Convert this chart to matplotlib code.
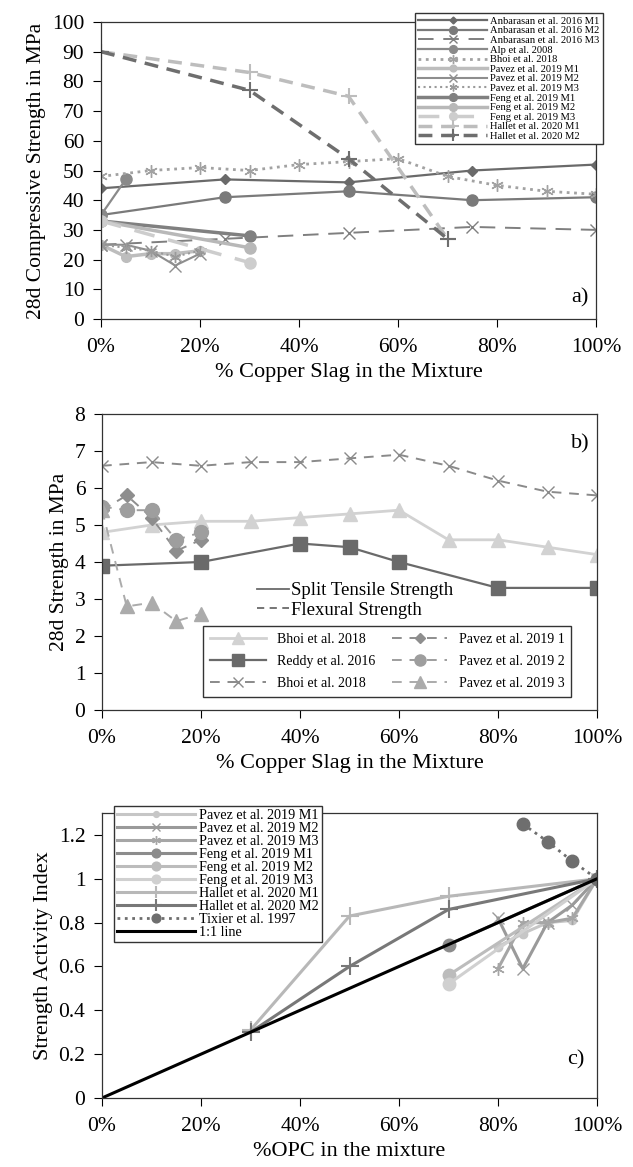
import numpy as np
import matplotlib.pyplot as plt
from matplotlib.ticker import PercentFormatter
from matplotlib.lines import Line2D

plt.rcParams['font.family'] = ['Liberation Serif', 'DejaVu Serif']

# ---- panel a: 28d compressive strength (MPa) vs % copper slag ----
anb_x = [0, 25, 50, 75, 100]
anb_m1 = [44, 47, 46, 50, 52]
anb_m2 = [35, 41, 43, 40, 41]
anb_m3 = [25, 27, 29, 31, 30]
alp_x = [0, 5]
alp_y = [35, 47]
bhoi_x = [0, 10, 20, 30, 40, 50, 60, 70, 80, 90, 100]
bhoi_cs = [48, 50, 51, 50, 52, 53, 54, 48, 45, 43, 42]
pav_x = [0, 5, 10, 15, 20]
pav_m1 = [25, 21, 22, 22, 23]
pav_m2 = [25, 25, 23, 18, 22]
pav_m3 = [25, 24, 23, 21, 23]
feng_x = [0, 30]
feng_m1 = [33, 28]
feng_m2 = [33, 24]
feng_m3 = [33, 19]
hal_x = [0, 30, 50, 70]
hal_m1 = [90, 83, 75, 27]
hal_m2 = [90, 77, 54, 27]

# ---- panel b: 28d split tensile / flexural strength (MPa) ----
bhoi_split = [4.8, 5.0, 5.1, 5.1, 5.2, 5.3, 5.4, 4.6, 4.6, 4.4, 4.2]
bhoi_flex = [6.6, 6.7, 6.6, 6.7, 6.7, 6.8, 6.9, 6.6, 6.2, 5.9, 5.8]
reddy_x = [0, 20, 40, 50, 60, 80, 100]
reddy_y = [3.9, 4.0, 4.5, 4.4, 4.0, 3.3, 3.3]
pav_f1 = [5.4, 5.8, 5.2, 4.3, 4.6]
pav_f2 = [5.5, 5.4, 5.4, 4.6, 4.8]
pav_f3 = [5.4, 2.8, 2.9, 2.4, 2.6]

# ---- panel c: strength activity index vs % OPC ----
c_pav_x = [100, 95, 90, 85, 80]
c_pav_m1 = [1.0, 0.81, 0.80, 0.75, 0.69]
c_pav_m2 = [1.0, 0.88, 0.80, 0.59, 0.82]
c_pav_m3 = [1.0, 0.82, 0.80, 0.80, 0.59]
c_feng_x = [100, 70]
c_feng_m1 = [1.0, 0.70]
c_feng_m2 = [1.0, 0.56]
c_feng_m3 = [1.0, 0.52]
c_hal_x = [100, 70, 50, 30]
c_hal_m1 = [1.0, 0.92, 0.83, 0.31]
c_hal_m2 = [1.0, 0.86, 0.60, 0.30]
tix_x = [85, 90, 95, 100]
tix_y = [1.25, 1.17, 1.08, 1.0]
one_x = [0, 100]
one_y = [0, 1]

AST = (6, 2, 0)  # asterisk marker

fig = plt.figure(figsize=(6.33, 11.67), dpi=100)
W, H = 633, 1167
def box(l, r, t, b):
    return [l / W, 1 - b / H, (r - l) / W, (b - t) / H]

ax1 = fig.add_axes(box(101, 596, 22, 319))
ax2 = fig.add_axes(box(102, 597, 414, 710))
ax3 = fig.add_axes(box(102, 597, 813, 1098))

def style(ax):
    ax.set_xlim(0, 100)
    ax.set_xticks(np.arange(0, 101, 20))
    ax.xaxis.set_major_formatter(PercentFormatter(xmax=100, decimals=0))
    ax.tick_params(labelsize=15.5, direction='out', length=6, width=0.8)
    ax.tick_params(axis='x', pad=8)
    ax.tick_params(axis='y', pad=6)
    for s in ax.spines.values():
        s.set_linewidth(0.9)
        s.set_color('#333333')

# panel a
ax1.plot(anb_x, anb_m1, color='#6a6a6a', marker='D', ms=5, lw=1.6, label='Anbarasan et al. 2016 M1')
ax1.plot(anb_x, anb_m2, color='#7a7a7a', marker='o', ms=8, lw=1.6, label='Anbarasan et al. 2016 M2')
ax1.plot(anb_x, anb_m3, color='#7f7f7f', marker='x', ms=8, lw=1.4, ls=(0, (8, 5)), label='Anbarasan et al. 2016 M3')
ax1.plot(alp_x, alp_y, color='#8a8a8a', marker='o', ms=8, lw=1.6, label='Alp et al. 2008')
ax1.plot(bhoi_x, bhoi_cs, color='#a2a2a2', marker=AST, ms=9, lw=2, ls=':', label='Bhoi et al. 2018')
ax1.plot(pav_x, pav_m1, color='#bdbdbd', marker='o', ms=7, lw=2.5, label='Pavez et al. 2019 M1')
ax1.plot(pav_x, pav_m2, color='#8e8e8e', marker='x', ms=8, lw=1.5, label='Pavez et al. 2019 M2')
ax1.plot(pav_x, pav_m3, color='#9a9a9a', marker=AST, ms=8, lw=1.5, ls=':', label='Pavez et al. 2019 M3')
ax1.plot(feng_x, feng_m1, color='#808080', marker='o', ms=8, lw=2.5, label='Feng et al. 2019 M1')
ax1.plot(feng_x, feng_m2, color='#b8b8b8', marker='o', ms=8, lw=2.5, label='Feng et al. 2019 M2')
ax1.plot(feng_x, feng_m3, color='#cdcdcd', marker='o', ms=8, lw=2.5, ls=(0, (6, 4)), label='Feng et al. 2019 M3')
ax1.plot(hal_x, hal_m1, color='#bdbdbd', marker='+', ms=12, mew=1.5, lw=2.5, ls=(0, (4, 2.5)), label='Hallet et al. 2020 M1')
ax1.plot(hal_x, hal_m2, color='#6e6e6e', marker='+', ms=12, mew=1.5, lw=2.5, ls=(0, (4, 2.5)), label='Hallet et al. 2020 M2')
ax1.set_ylim(0, 100)
ax1.set_yticks(np.arange(0, 101, 10))
style(ax1)
ax1.set_ylabel('28d Compressive Strength in MPa', fontsize=15.5)
ax1.set_xlabel('% Copper Slag in the Mixture', fontsize=16)
ax1.text(0.985, 0.04, 'a)', transform=ax1.transAxes, ha='right', va='bottom', fontsize=16)
leg = ax1.legend(loc='upper right', bbox_to_anchor=(1.024, 1.047), fontsize=7.6,
                 handlelength=6.5, labelspacing=0.02, borderpad=0.3, handletextpad=0.3,
                 fancybox=False, framealpha=1, edgecolor='#333333', markerscale=0.7)
leg.get_frame().set_linewidth(1)

# panel b
ax2.plot(bhoi_x, bhoi_split, color='#d2d2d2', marker='^', ms=10, lw=2, label='Bhoi et al. 2018')
ax2.plot(reddy_x, reddy_y, color='#6a6a6a', marker='s', ms=10, lw=1.6, label='Reddy et al. 2016')
ax2.plot(bhoi_x, bhoi_flex, color='#8a8a8a', marker='x', ms=9, lw=1.4, ls=(0, (5, 4)), label='Bhoi et al. 2018')
ax2.plot(pav_x, pav_f1, color='#8e8e8e', marker='D', ms=7, lw=1.4, ls=(0, (5, 4)), label='Pavez et al. 2019 1')
ax2.plot(pav_x, pav_f2, color='#9e9e9e', marker='o', ms=10, lw=1.4, ls=(0, (5, 4)), label='Pavez et al. 2019 2')
ax2.plot(pav_x, pav_f3, color='#ababab', marker='^', ms=10, lw=1.4, ls=(0, (5, 4)), label='Pavez et al. 2019 3')
ax2.set_ylim(0, 8)
ax2.set_yticks(np.arange(0, 9, 1))
style(ax2)
ax2.set_ylabel('28d Strength in MPa', fontsize=15.5)
ax2.set_xlabel('% Copper Slag in the Mixture', fontsize=16)
ax2.text(0.985, 0.93, 'b)', transform=ax2.transAxes, ha='right', va='top', fontsize=16)
leg_b = ax2.legend(loc='lower right', bbox_to_anchor=(0.962, 0.02), ncol=2, fontsize=10,
                   handlelength=4, columnspacing=1.2, labelspacing=0.65, borderpad=0.5,
                   fancybox=False, framealpha=1, edgecolor='#333333', markerscale=0.8)
leg_b.get_frame().set_linewidth(1)
kind = [Line2D([], [], color='#6a6a6a', lw=1.3),
        Line2D([], [], color='#6a6a6a', lw=1.3, ls=(0, (4, 3)))]
leg_k = ax2.legend(kind, ['Split Tensile Strength', 'Flexural Strength'], loc='center left',
                   bbox_to_anchor=(0.28, 0.37), frameon=False, fontsize=13.5,
                   handlelength=1.7, handletextpad=0.1, labelspacing=0.15)
ax2.add_artist(leg_b)

# panel c
ax3.plot(c_pav_x, c_pav_m1, color='#c6c6c6', marker='o', ms=6, lw=2.2, label='Pavez et al. 2019 M1')
ax3.plot(c_pav_x, c_pav_m2, color='#9a9a9a', marker='x', ms=9, lw=2.2, label='Pavez et al. 2019 M2')
ax3.plot(c_pav_x, c_pav_m3, color='#a6a6a6', marker=AST, ms=9, lw=2.2, label='Pavez et al. 2019 M3')
ax3.plot(c_feng_x, c_feng_m1, color='#8c8c8c', marker='o', ms=9, lw=2.2, label='Feng et al. 2019 M1')
ax3.plot(c_feng_x, c_feng_m2, color='#bcbcbc', marker='o', ms=9, lw=2.2, label='Feng et al. 2019 M2')
ax3.plot(c_feng_x, c_feng_m3, color='#d0d0d0', marker='o', ms=9, lw=2.2, label='Feng et al. 2019 M3')
ax3.plot(c_hal_x, c_hal_m1, color='#b8b8b8', marker='+', ms=13, mew=1.5, lw=2.2, label='Hallet et al. 2020 M1')
ax3.plot(c_hal_x, c_hal_m2, color='#787878', marker='+', ms=13, mew=1.5, lw=2.2, label='Hallet et al. 2020 M2')
ax3.plot(tix_x, tix_y, color='#6e6e6e', marker='o', ms=9, lw=2, ls=':', label='Tixier et al. 1997')
ax3.plot(one_x, one_y, color='black', lw=2.2, label='1:1 line')
ax3.set_ylim(0, 1.3)
ax3.set_yticks([0, 0.2, 0.4, 0.6, 0.8, 1.0, 1.2])
ax3.set_yticklabels(['0', '0.2', '0.4', '0.6', '0.8', '1', '1.2'])
style(ax3)
ax3.set_ylabel('Strength Activity Index', fontsize=16)
ax3.set_xlabel('%OPC in the mixture', fontsize=16)
ax3.text(0.975, 0.10, 'c)', transform=ax3.transAxes, ha='right', va='bottom', fontsize=16)
leg_c = ax3.legend(loc='upper left', bbox_to_anchor=(0.01, 1.05), fontsize=10.2,
                   handlelength=5.5, labelspacing=0.0, borderpad=0.2, handletextpad=0.3,
                   fancybox=False, framealpha=1, edgecolor='#333333', markerscale=0.7)
leg_c.get_frame().set_linewidth(1)

fig.savefig('out.png', dpi=100)
